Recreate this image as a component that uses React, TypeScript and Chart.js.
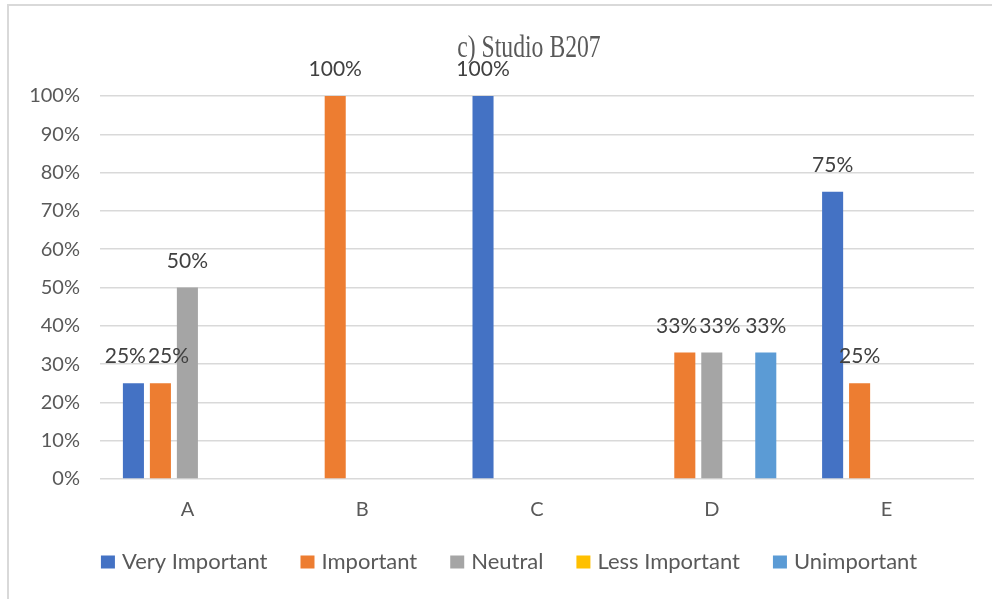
import React, { useEffect, useRef } from "react";
import { Chart, registerables } from "chart.js";

Chart.register(...registerables);

const chartTitle = "c) Studio B207";
const categories = ["A", "B", "C", "D", "E"];
const seriesNames = ["Very Important", "Important", "Neutral", "Less Important", "Unimportant"];
const veryImportant = [25, 0, 100, 0, 75];
const important = [25, 100, 0, 33, 25];
const neutral = [50, 0, 0, 33, 0];
const lessImportant = [0, 0, 0, 0, 0];
const unimportant = [0, 0, 0, 33, 0];
const seriesColors = ["#4472C4", "#ED7D31", "#A5A5A5", "#FFC000", "#5B9BD5"];
const yTicks = [0, 10, 20, 30, 40, 50, 60, 70, 80, 90, 100];

const FONT = "Lato, 'Open Sans', sans-serif";
const TEXT = "#595959";
const LABEL_GAP = 2;

type Lbl = { x: number; y: number; w: number; text: string; pos?: number };

// Spread labels of one row apart so neighbours do not collide
function spreadRow(items: Lbl[]) {
  items.sort((a, b) => a.x - b.x);
  let clusters = items.map((it) => [it]);
  const extent = (c: Lbl[]) => {
    const mean = c.reduce((s, it) => s + it.x, 0) / c.length;
    const total = c.reduce((s, it) => s + it.w, 0) + LABEL_GAP * (c.length - 1);
    return { left: mean - total / 2, right: mean + total / 2 };
  };
  let changed = true;
  while (changed) {
    changed = false;
    for (let k = 0; k < clusters.length - 1; k++) {
      if (extent(clusters[k]).right + LABEL_GAP > extent(clusters[k + 1]).left) {
        clusters.splice(k, 2, clusters[k].concat(clusters[k + 1]));
        changed = true;
        break;
      }
    }
  }
  clusters.forEach((c) => {
    let x = extent(c).left;
    c.forEach((it) => {
      it.pos = x + it.w / 2;
      x += it.w + LABEL_GAP;
    });
  });
}

// Value labels above every non-zero bar
const valueLabels = {
  id: "valueLabels",
  afterDatasetsDraw(chart: any) {
    const ctx = chart.ctx;
    ctx.save();
    ctx.font = `21px ${FONT}`;
    ctx.fillStyle = "#404040";
    ctx.textAlign = "center";
    ctx.textBaseline = "alphabetic";
    const nCat = chart.data.labels.length;
    for (let j = 0; j < nCat; j++) {
      const rows: Record<string, Lbl[]> = {};
      chart.data.datasets.forEach((ds: any, i: number) => {
        const v = ds.data[j];
        if (!(v > 0)) return;
        const bar = chart.getDatasetMeta(i).data[j];
        const text = `${v}%`;
        const y = bar.y - 20;
        const key = String(Math.round(y));
        (rows[key] = rows[key] || []).push({ x: bar.x, y, w: ctx.measureText(text).width, text });
      });
      Object.values(rows).forEach((row) => {
        spreadRow(row);
        row.forEach((it) => ctx.fillText(it.text, it.pos, it.y));
      });
    }
    ctx.restore();
  },
};

// White page, light frame, title and legend
const decorations = {
  id: "decorations",
  beforeDraw(chart: any) {
    const ctx = chart.ctx;
    ctx.save();
    ctx.fillStyle = "#ffffff";
    ctx.fillRect(0, 0, chart.width, chart.height);
    ctx.strokeStyle = "#d9d9d9";
    ctx.lineWidth = 2;
    ctx.strokeRect(8, 5, 1200, 800);
    ctx.restore();
  },
  afterDraw(chart: any) {
    const ctx = chart.ctx;
    const area = chart.chartArea;
    ctx.save();
    // title
    ctx.fillStyle = TEXT;
    ctx.font = "32px 'Liberation Serif', 'Times New Roman', serif";
    ctx.textAlign = "center";
    ctx.textBaseline = "alphabetic";
    ctx.translate((area.left + area.right) / 2 - 8, 57);
    ctx.scale(0.74, 1);
    ctx.fillText(chartTitle, 0, 0);
    ctx.restore();

    // legend
    ctx.save();
    ctx.font = `22px ${FONT}`;
    ctx.textBaseline = "middle";
    ctx.textAlign = "left";
    const box = 14;
    const boxGap = 7;
    const itemGap = 33;
    const widths = seriesNames.map((n) => ctx.measureText(n).width);
    const total =
      widths.reduce((s, w) => s + box + boxGap + w, 0) + itemGap * (seriesNames.length - 1);
    let x = 509 - total / 2;
    const cy = 562;
    seriesNames.forEach((name, i) => {
      ctx.fillStyle = seriesColors[i];
      ctx.fillRect(x, cy - 6.5, box, 13);
      ctx.fillStyle = TEXT;
      ctx.fillText(name, x + box + boxGap, cy);
      x += box + boxGap + widths[i] + itemGap;
    });
    ctx.restore();
  },
};

export default function App() {
  const ref = useRef<HTMLCanvasElement>(null);

  useEffect(() => {
    if (!ref.current) return;
    const all = [veryImportant, important, neutral, lessImportant, unimportant];
    const chart = new Chart(ref.current, {
      type: "bar",
      data: {
        labels: categories,
        datasets: all.map((d, i) => ({
          label: seriesNames[i],
          data: d,
          backgroundColor: seriesColors[i],
          borderWidth: 0,
          categoryPercentage: 0.772,
          barPercentage: 0.78,
        })),
      },
      options: {
        responsive: false,
        animation: false,
        devicePixelRatio: 1,
        layout: { padding: { left: 8, right: 18, top: 96, bottom: 66 } },
        plugins: {
          title: { display: false },
          legend: { display: false },
          tooltip: { enabled: false },
        },
        scales: {
          x: {
            grid: { display: false, drawTicks: true, tickLength: 8 },
            border: { display: false },
            ticks: { color: TEXT, font: { family: FONT, size: 20 }, padding: 11 },
          },
          y: {
            min: 0,
            max: 100,
            afterFit(scale: any) {
              scale.width = 92;
            },
            afterBuildTicks(scale: any) {
              scale.ticks = yTicks.map((v) => ({ value: v }));
            },
            grid: { color: "#d9d9d9", lineWidth: 1.5, drawTicks: false },
            border: { display: false },
            ticks: {
              color: TEXT,
              font: { family: FONT, size: 20 },
              padding: 20,
              callback: (v: any) => `${v}%`,
            },
          },
        },
      },
      plugins: [decorations, valueLabels],
    });
    return () => chart.destroy();
  }, []);

  return (
    <div style={{ position: "fixed", left: 0, top: 0, width: 992, height: 599, background: "#fff" }}>
      <canvas ref={ref} width={992} height={599} style={{ display: "block" }} />
    </div>
  );
}
